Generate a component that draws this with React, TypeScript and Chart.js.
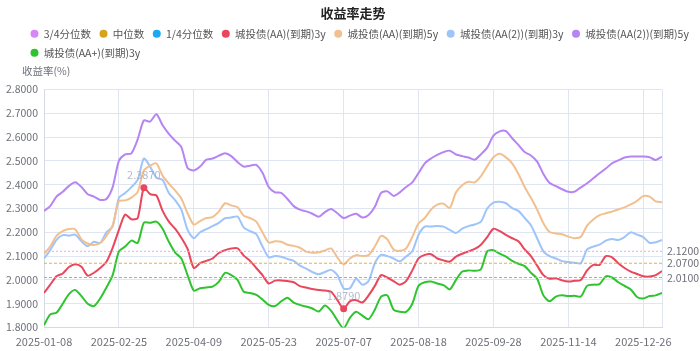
import { useEffect, useRef } from 'react';
import { Chart, registerables } from 'chart.js';

Chart.register(...registerables);

// x-axis tick labels (one every 12 sampled trading days)
const tickLabels = ['2025-01-08', '2025-02-25', '2025-04-09', '2025-05-23', '2025-07-07', '2025-08-18', '2025-09-28', '2025-11-14', '2025-12-26'];
const TICK_STEP = 12;

// quantiles
const q75 = 2.12;
const q50 = 2.07;
const q25 = 2.01;

// 城投债(AA)(到期)3y
const aa3y = [
  1.945, 1.98, 2.015, 2.027, 2.054, 2.066, 2.055, 2.018, 2.03, 2.05,
  2.076, 2.135, 2.21, 2.275, 2.255, 2.26, 2.387, 2.36, 2.355, 2.29,
  2.245, 2.215, 2.177, 2.13, 2.05, 2.07, 2.08, 2.09, 2.113, 2.125,
  2.132, 2.133, 2.102, 2.08, 2.05, 2.02, 1.985, 1.997, 1.998, 1.995,
  1.99, 1.974, 1.968, 1.962, 1.958, 1.955, 1.95, 1.915, 1.879, 1.91,
  1.915, 1.905, 1.935, 1.975, 2.02, 2.01, 1.995, 1.98, 1.995, 2.04,
  2.09, 2.105, 2.108, 2.09, 2.082, 2.077, 2.098, 2.11, 2.12, 2.13,
  2.148, 2.18, 2.215, 2.205, 2.189, 2.175, 2.162, 2.128, 2.1, 2.06,
  2.02, 2.005, 2.007, 1.998, 1.993, 1.996, 2.0, 2.04, 2.063, 2.063,
  2.1, 2.095, 2.07, 2.05, 2.035, 2.025, 2.015, 2.014, 2.02, 2.037,
];

// 城投债(AA)(到期)5y
const aa5y = [
  2.11, 2.14, 2.185, 2.205, 2.214, 2.213, 2.17, 2.153, 2.147, 2.155,
  2.185, 2.23, 2.33, 2.334, 2.346, 2.37, 2.46, 2.48, 2.49, 2.437,
  2.405, 2.376, 2.342, 2.28, 2.232, 2.247, 2.26, 2.264, 2.287, 2.322,
  2.313, 2.305, 2.27, 2.26, 2.245, 2.2, 2.157, 2.162, 2.16, 2.148,
  2.143, 2.135, 2.119, 2.114, 2.116, 2.124, 2.132, 2.094, 2.065, 2.09,
  2.104, 2.1, 2.104, 2.14, 2.185, 2.17, 2.128, 2.122, 2.132, 2.18,
  2.238, 2.26, 2.295, 2.316, 2.32, 2.302, 2.368, 2.398, 2.412, 2.41,
  2.436, 2.478, 2.515, 2.53, 2.515, 2.49, 2.445, 2.39, 2.345, 2.295,
  2.238, 2.201, 2.195, 2.192, 2.182, 2.175, 2.181, 2.228, 2.254, 2.272,
  2.28, 2.287, 2.296, 2.305, 2.317, 2.332, 2.352, 2.35, 2.33, 2.326,
];

// 城投债(AA(2))(到期)3y
const aa2y3 = [
  2.09, 2.125, 2.168, 2.188, 2.186, 2.19, 2.162, 2.142, 2.16, 2.155,
  2.2, 2.225, 2.345, 2.365, 2.39, 2.42, 2.51, 2.476, 2.43, 2.42,
  2.365, 2.335, 2.295, 2.21, 2.175, 2.2, 2.213, 2.226, 2.24, 2.259,
  2.262, 2.266, 2.22, 2.205, 2.192, 2.14, 2.095, 2.1, 2.097, 2.088,
  2.08, 2.06, 2.047, 2.033, 2.024, 2.033, 2.042, 2.02, 1.964, 1.965,
  2.005, 1.98, 1.995, 2.07, 2.105, 2.1, 2.09, 2.078, 2.098, 2.12,
  2.19, 2.224, 2.224, 2.226, 2.224, 2.21, 2.197, 2.215, 2.226, 2.233,
  2.245, 2.3, 2.325, 2.328, 2.322, 2.302, 2.29, 2.26, 2.23, 2.175,
  2.12, 2.1, 2.09, 2.079, 2.075, 2.072, 2.07, 2.128, 2.14, 2.148,
  2.165, 2.172, 2.168, 2.18, 2.2, 2.19, 2.18, 2.156, 2.158, 2.168,
];

// 城投债(AA(2))(到期)5y
const aa2y5 = [
  2.29, 2.31, 2.35, 2.37, 2.395, 2.41, 2.39, 2.36, 2.35, 2.336,
  2.34, 2.39, 2.5, 2.527, 2.532, 2.59, 2.67, 2.665, 2.696, 2.65,
  2.614, 2.585, 2.558, 2.47, 2.46, 2.476, 2.505, 2.51, 2.522, 2.532,
  2.52, 2.495, 2.476, 2.48, 2.483, 2.45, 2.39, 2.368, 2.366, 2.34,
  2.31, 2.295, 2.288, 2.278, 2.265, 2.285, 2.298, 2.28, 2.26, 2.27,
  2.278, 2.262, 2.273, 2.307, 2.366, 2.372, 2.353, 2.368, 2.39, 2.41,
  2.449, 2.49, 2.51, 2.525, 2.537, 2.543, 2.527, 2.52, 2.514, 2.505,
  2.528, 2.556, 2.606, 2.624, 2.625, 2.595, 2.567, 2.537, 2.523, 2.497,
  2.445, 2.407, 2.394, 2.381, 2.37, 2.371, 2.389, 2.406, 2.427, 2.448,
  2.468, 2.49, 2.502, 2.514, 2.518, 2.518, 2.518, 2.515, 2.504, 2.518,
];

// 城投债(AA+)(到期)3y
const aaPlus3y = [
  1.81, 1.855, 1.862, 1.9, 1.94, 1.958, 1.932, 1.9, 1.89, 1.922,
  1.968, 2.02, 2.12, 2.14, 2.165, 2.155, 2.24, 2.24, 2.245, 2.215,
  2.16, 2.115, 2.09, 2.02, 1.955, 1.965, 1.968, 1.972, 1.992, 2.03,
  2.02, 2.0, 1.95, 1.945, 1.937, 1.918, 1.895, 1.89, 1.91, 1.925,
  1.905, 1.895, 1.888, 1.88, 1.867, 1.892, 1.87, 1.83, 1.797, 1.84,
  1.866, 1.85, 1.835, 1.875, 1.93, 1.935, 1.875, 1.866, 1.866, 1.9,
  1.975, 1.99, 1.993, 1.985, 1.978, 1.96, 2.0, 2.035, 2.04, 2.038,
  2.045, 2.12, 2.125, 2.11, 2.098, 2.08, 2.068, 2.058, 2.03, 2.005,
  1.935, 1.91, 1.93, 1.935, 1.932, 1.933, 1.93, 1.975, 1.98, 1.982,
  2.015, 2.01, 1.99, 1.975, 1.96, 1.928, 1.922, 1.932, 1.935, 1.945,
];

const FONT = "'Noto Sans CJK SC', 'Noto Sans', sans-serif";

export default function App() {
  const ref = useRef<HTMLCanvasElement>(null);

  useEffect(() => {
    const canvas = ref.current;
    if (!canvas) return;
    const n = aa3y.length;
    const last = n - 1;
    const idx = aa3y.map((_, i) => i);
    const maxIdx = aa3y.indexOf(Math.max(...aa3y));
    const minIdx = aa3y.indexOf(Math.min(...aa3y));
    const tickValues = tickLabels.map((_, k) => k * TICK_STEP);

    const refLine = (label: string, value: number, color: string, lineColor: string, dash: number[]) => ({
      label,
      data: [{ x: 0, y: value }, { x: last, y: value }],
      borderColor: lineColor,
      backgroundColor: color,
      borderWidth: 1,
      borderDash: dash,
      pointRadius: 0,
      tension: 0,
    });
    const series = (label: string, data: number[], color: string, extra: any = {}) => ({
      label,
      data,
      borderColor: color,
      backgroundColor: color,
      borderWidth: 2,
      pointRadius: 0,
      tension: 0.25,
      ...extra,
    });

    const annot = {
      id: 'annot',
      afterLayout(chart: any) {
        // legend block starts a little to the right, as in the reference
        const lg = chart.legend;
        if (lg) {
          lg.left += 22;
          lg.right += 22;
        }
      },
      afterDatasetsDraw(chart: any) {
        const { ctx, chartArea, scales } = chart;
        const y = scales.y;
        ctx.save();
        ctx.font = `10.5px ${FONT}`;
        ctx.fillStyle = '#6e7079';
        ctx.textAlign = 'left';
        ctx.textBaseline = 'middle';
        [q75, q50, q25].forEach((v) => ctx.fillText(v.toFixed(4), chartArea.right + 5, y.getPixelForValue(v)));
        ctx.fillText('收益率(%)', 22, 71);
        const meta = chart.getDatasetMeta(3);
        ctx.textAlign = 'center';
        ctx.fillStyle = 'rgba(160,170,190,0.8)';
        ctx.font = `11px ${FONT}`;
        [maxIdx, minIdx].forEach((i) => {
          const p = meta.data[i];
          ctx.fillText(aa3y[i].toFixed(4), p.x, p.y - 13);
        });
        ctx.restore();
      },
    };

    const chart = new Chart(canvas, {
      type: 'line',
      data: {
        labels: idx,
        datasets: [
          refLine('3/4分位数', q75, '#d787f5', '#eaa8f8', [2, 2]),
          refLine('中位数', q50, '#d6a31a', '#e0b24a', [3, 2]),
          refLine('1/4分位数', q25, '#1da9f2', '#5cc3f5', [3, 2]),
          series('城投债(AA)(到期)3y', aa3y, '#e8475c', {
            pointRadius: (c: any) => (c.dataIndex === maxIdx || c.dataIndex === minIdx ? 3.5 : 0),
            pointBackgroundColor: '#e8475c',
            pointBorderWidth: 0,
          }),
          series('城投债(AA)(到期)5y', aa5y, '#f2c08f'),
          series('城投债(AA(2))(到期)3y', aa2y3, '#9ec4f9'),
          series('城投债(AA(2))(到期)5y', aa2y5, '#b684f3'),
          series('城投债(AA+)(到期)3y', aaPlus3y, '#2fc42f'),
        ],
      },
      options: {
        responsive: false,
        animation: false,
        events: [],
        layout: { padding: { left: 0, right: 0, top: 0, bottom: 0 } },
        font: { family: FONT },
        plugins: {
          title: {
            display: true,
            text: '收益率走势',
            fullSize: false,
            color: '#222',
            font: { family: FONT, size: 13, weight: 'bold', lineHeight: 1 },
            padding: { top: 7, bottom: 0 },
          },
          legend: {
            display: true,
            position: 'top',
            align: 'start',
            labels: {
              usePointStyle: true,
              pointStyle: 'circle',
              boxWidth: 8,
              boxHeight: 5.66,
              padding: 8.5,
              color: '#555',
              font: { family: FONT, size: 10.5 },
              generateLabels: (c: any) =>
                Chart.defaults.plugins.legend.labels.generateLabels(c).map((l: any) => ({
                  ...l,
                  lineWidth: 0,
                  lineDash: [],
                  strokeStyle: l.fillStyle,
                })),
            },
          },
          tooltip: { enabled: false },
        },
        scales: {
          x: {
            type: 'linear',
            min: 0,
            max: last,
            afterBuildTicks: (axis: any) => {
              axis.ticks = [...tickValues.map((v) => ({ value: v })), { value: last }];
            },
            afterFit: (s: any) => {
              s.height = 23.5;
            },
            ticks: {
              autoSkip: false,
              maxRotation: 0,
              padding: 8,
              color: '#6e7079',
              font: { family: FONT, size: 11 },
              callback: (v: any) => {
                const k = tickValues.indexOf(v);
                return k >= 0 ? tickLabels[k] : '';
              },
            },
            grid: { color: '#e0e6f1', drawTicks: false },
            border: { color: '#d3dae6' },
          },
          xTop: {
            type: 'linear',
            position: 'top',
            display: true,
            ticks: { display: false },
            grid: { display: false },
            border: { display: false },
            afterFit: (s: any) => {
              s.height = 21.5;
            },
          },
          y: {
            type: 'linear',
            min: 1.8,
            max: 2.8,
            afterFit: (s: any) => {
              s.width = 44;
            },
            ticks: {
              stepSize: 0.1,
              padding: 6,
              color: '#6e7079',
              font: { family: FONT, size: 10.5 },
              callback: (v: any) => Number(v).toFixed(4),
            },
            grid: { color: '#e0e6f1', drawTicks: false },
            border: { color: '#d3dae6' },
          },
          yRight: {
            type: 'linear',
            position: 'right',
            display: true,
            ticks: { display: false },
            grid: { display: false },
            border: { display: false },
            afterFit: (s: any) => {
              s.width = 38;
            },
          },
        },
      } as any,
      plugins: [annot],
    });

    return () => chart.destroy();
  }, []);

  return (
    <div style={{ position: 'fixed', left: 0, top: 0, width: 700, height: 351, background: '#fff' }}>
      <canvas ref={ref} width={700} height={351} style={{ display: 'block', width: 700, height: 351 }} />
    </div>
  );
}
